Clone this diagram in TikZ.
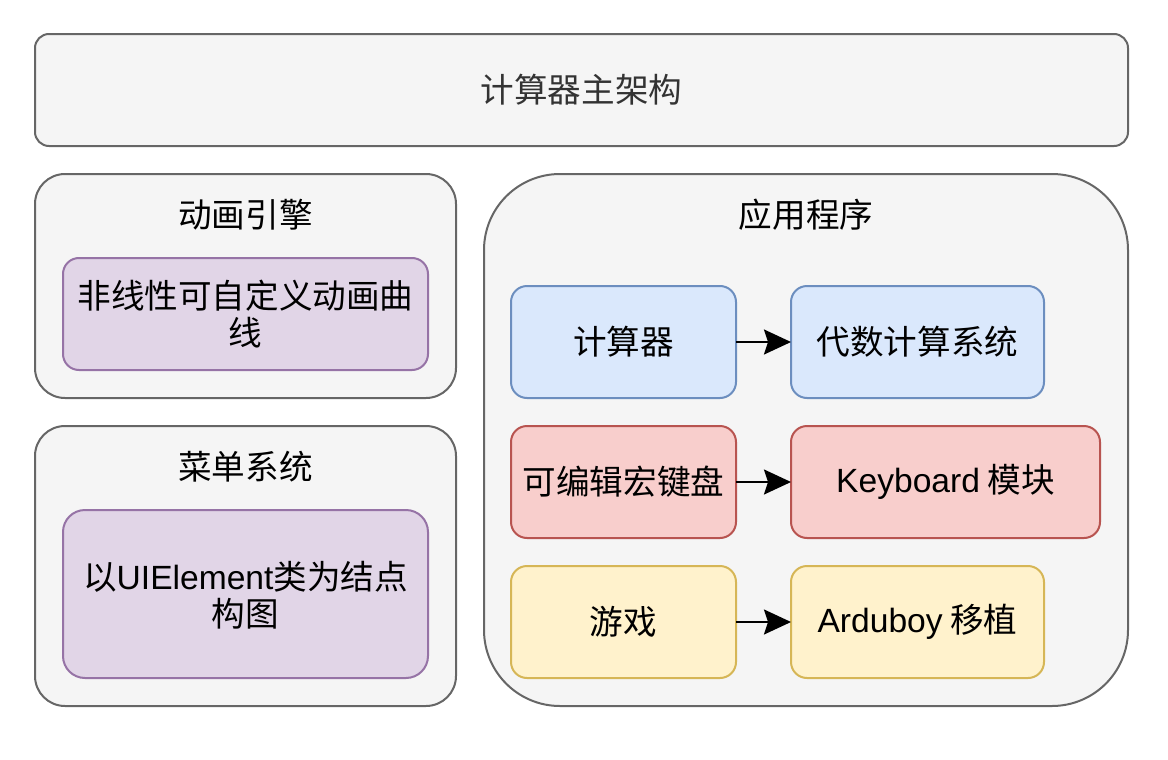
\documentclass[tikz,border=0pt]{standalone}
\usepackage{fontspec}
\setmainfont{Noto Sans CJK SC}
\newfontfamily\latf{Liberation Sans}
\usetikzlibrary{arrows.meta}
\definecolor{grayfill}{HTML}{F5F5F5}
\definecolor{graydraw}{HTML}{666666}
\definecolor{purfill}{HTML}{E1D5E7}
\definecolor{purdraw}{HTML}{9673A6}
\definecolor{bluefill}{HTML}{DAE8FC}
\definecolor{bluedraw}{HTML}{6C8EBF}
\definecolor{redfill}{HTML}{F8CECC}
\definecolor{reddraw}{HTML}{B85450}
\definecolor{yelfill}{HTML}{FFF2CC}
\definecolor{yeldraw}{HTML}{D6B656}
\definecolor{txtgray}{HTML}{333333}
\begin{document}
\begin{tikzpicture}[x=0.5pt,y=-0.5pt,
  base/.style={line width=1pt},
  graybox/.style={base, fill=grayfill, draw=graydraw},
  purbox/.style={base, fill=purfill, draw=purdraw, rounded corners=11pt},
  bluebox/.style={base, fill=bluefill, draw=bluedraw, rounded corners=8pt},
  redbox/.style={base, fill=redfill, draw=reddraw, rounded corners=8pt},
  yelbox/.style={base, fill=yelfill, draw=yeldraw, rounded corners=8pt},
  lbl/.style={font=\fontsize{16.8pt}{18.5pt}\selectfont, text=black, align=center},
  glbl/.style={lbl, text=txtgray},
  arr/.style={line width=1pt, -{Stealth[length=13.5pt,width=12.5pt,inset=2pt]}}
]
\useasboundingbox (0,0) rectangle (1168,760);
% top
\draw[graybox, rounded corners=7pt] (35,34) rectangle (1128,146);
\node[glbl] (top) at (581.5,90) {计算器主架构};
% animation engine
\draw[graybox, rounded corners=15pt] (35,174) rectangle (456,398);
\node[lbl] (anim) at (245.5,215) {动画引擎};
\draw[purbox, rounded corners=8pt] (63,258) rectangle (428,370);
\node[lbl] (curve) at (245.5,314) {非线性可自定义动画曲\\线};
% menu
\draw[graybox, rounded corners=15pt] (35,426) rectangle (456,706);
\node[lbl] (menu) at (245.5,467) {菜单系统};
\draw[purbox] (63,510) rectangle (428,678);
\node[lbl] (uie) at (245.5,595) {以{\latf UIElement}类为结点\\构图};
% app
\draw[graybox, rounded corners=38pt] (484,174) rectangle (1128,706);
\node[lbl] (app) at (806,215) {应用程序};
% rows
\draw[bluebox] (511,286) rectangle (736,398);
\node[lbl] (calc) at (623.5,342) {计算器};
\draw[bluebox] (791,286) rectangle (1044,398);
\node[lbl] (cas) at (917.5,342) {代数计算系统};
\draw[redbox] (511,426) rectangle (736,538);
\node[lbl] (kbd) at (623.5,482) {可编辑宏键盘};
\draw[redbox] (791,426) rectangle (1100,538);
\node[lbl] (kbm) at (945.5,482) {{\latf Keyboard} 模块};
\draw[yelbox] (511,566) rectangle (736,678);
\node[lbl] (game) at (623.5,622) {游戏};
\draw[yelbox] (791,566) rectangle (1044,678);
\node[lbl] (ard) at (917.5,622) {{\latf Arduboy} 移植};
\coordinate (c1) at (736,342); \coordinate (c2) at (791,342);
\coordinate (k1) at (736,482); \coordinate (k2) at (791,482);
\coordinate (g1) at (736,622); \coordinate (g2) at (791,622);
\draw[arr] (c1) -- (c2);
\draw[arr] (k1) -- (k2);
\draw[arr] (g1) -- (g2);
\end{tikzpicture}
\end{document}
